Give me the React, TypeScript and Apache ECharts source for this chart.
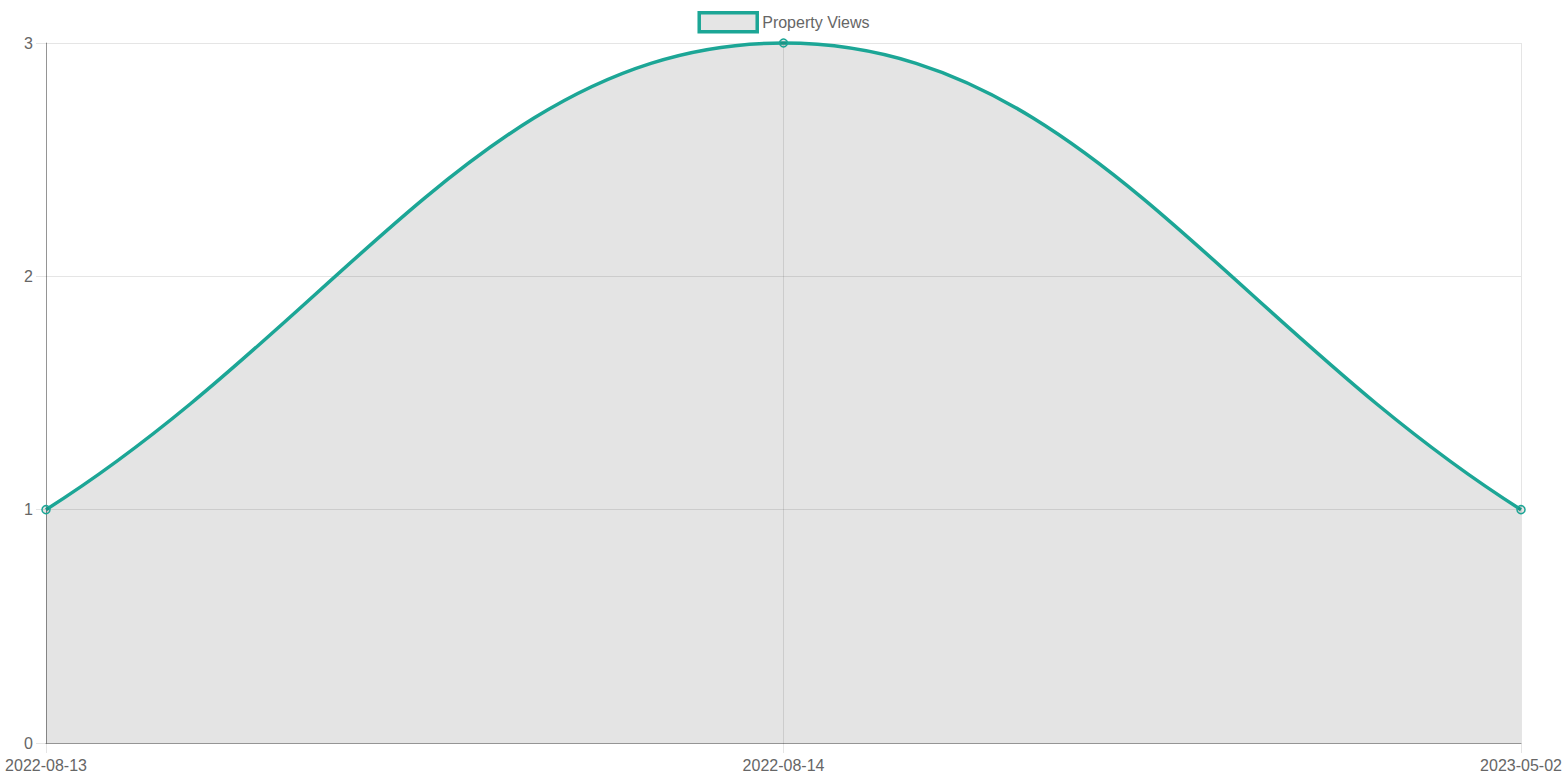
import React, { useEffect, useRef } from "react";
import * as echarts from "echarts";

const categories = ["2022-08-13", "2022-08-14", "2023-05-02"];
const views = [1, 3, 1];
const yTicks = { min: 0, max: 3, interval: 1 };

const TEAL = "#1ca696";
const FONT = "'Liberation Sans', Arial, Helvetica, sans-serif";
const TENSION = 0.4;

type P = [number, number];

// Chart.js-style spline control points
function controlPoints(pts: P[], t: number) {
  const res: { prev: P; next: P }[] = [];
  for (let i = 0; i < pts.length; i++) {
    const cur = pts[i];
    const a = pts[i - 1] || cur;
    const b = pts[i + 1] || cur;
    const d01 = Math.hypot(cur[0] - a[0], cur[1] - a[1]);
    const d12 = Math.hypot(b[0] - cur[0], b[1] - cur[1]);
    let s01 = d01 / (d01 + d12);
    let s12 = d12 / (d01 + d12);
    if (!isFinite(s01)) s01 = 0;
    if (!isFinite(s12)) s12 = 0;
    const fa = t * s01;
    const fb = t * s12;
    res.push({
      prev: [cur[0] - fa * (b[0] - a[0]), cur[1] - fa * (b[1] - a[1])],
      next: [cur[0] + fb * (b[0] - a[0]), cur[1] + fb * (b[1] - a[1])],
    });
  }
  return res;
}

function curvePath(pts: P[]) {
  const cps = controlPoints(pts, TENSION);
  let d = `M${pts[0][0]},${pts[0][1]}`;
  for (let i = 1; i < pts.length; i++) {
    const c1 = cps[i - 1].next;
    const c2 = cps[i].prev;
    d += ` C${c1[0]},${c1[1]} ${c2[0]},${c2[1]} ${pts[i][0]},${pts[i][1]}`;
  }
  return d;
}

export default function App() {
  const ref = useRef<HTMLDivElement>(null);
  useEffect(() => {
    if (!ref.current) return;
    const chart = echarts.init(ref.current, null, { renderer: "svg" });
    chart.setOption({
      animation: false,
      textStyle: { fontFamily: FONT },
      legend: {
        top: 6,
        left: "center",
        itemWidth: 58,
        itemHeight: 19,
        icon: "rect",
        textStyle: { color: "#666", fontSize: 16, fontFamily: FONT },
        itemStyle: { color: "rgba(0,0,0,0.1)", borderColor: TEAL, borderWidth: 3.5 },
        data: ["Property Views"],
      },
      grid: { left: 46, right: 46, top: 43, bottom: 40, containLabel: false },
      xAxis: {
        type: "category",
        data: categories,
        boundaryGap: false,
        axisLine: { show: true, lineStyle: { color: "rgba(0,0,0,0.35)", width: 1 } },
        axisTick: { show: true, length: 10, lineStyle: { color: "rgba(0,0,0,0.1)" } },
        axisLabel: { color: "#666", fontSize: 16, margin: 14, fontFamily: FONT, interval: 0 },
        splitLine: { show: true, interval: 0, lineStyle: { color: "rgba(0,0,0,0.1)", width: 1 } },
      },
      yAxis: {
        type: "value",
        min: yTicks.min,
        max: yTicks.max,
        interval: yTicks.interval,
        axisLine: { show: true, lineStyle: { color: "rgba(0,0,0,0.35)", width: 1 } },
        axisTick: { show: true, length: 10, lineStyle: { color: "rgba(0,0,0,0.1)" } },
        axisLabel: { color: "#666", fontSize: 16, margin: 13, fontFamily: FONT },
        splitLine: { show: true, lineStyle: { color: "rgba(0,0,0,0.1)", width: 1 } },
      },
      series: [
        {
          name: "_curve",
          type: "custom",
          data: views.map((v, i) => [i, v]),
          encode: { x: 0, y: 1 },
          silent: true,
          z: 2,
          renderItem: (params: any, api: any) => {
            if (params.dataIndex !== 0) return null;
            const pts: P[] = views.map((v, i) => api.coord([i, v]) as P);
            const baseY = api.coord([0, yTicks.min])[1];
            const line = curvePath(pts);
            const last = pts[pts.length - 1];
            const area = `${line} L${last[0]},${baseY} L${pts[0][0]},${baseY} Z`;
            return {
              type: "group",
              children: [
                {
                  type: "path",
                  shape: { pathData: area },
                  style: { fill: "rgba(0,0,0,0.105)", stroke: null },
                },
                {
                  type: "path",
                  shape: { pathData: line },
                  style: { fill: null, stroke: TEAL, lineWidth: 3.5, lineJoin: "round" },
                },
              ],
            };
          },
        },
        {
          name: "Property Views",
          type: "line",
          data: views,
          symbol: "circle",
          symbolSize: 8,
          showSymbol: true,
          lineStyle: { width: 0, opacity: 0 },
          itemStyle: { color: "rgba(0,0,0,0.1)", borderColor: TEAL, borderWidth: 1.5 },
          z: 3,
        },
      ],
    });
    return () => chart.dispose();
  }, []);
  return (
    <div
      ref={ref}
      style={{ position: "fixed", left: 0, top: 0, width: 1567, height: 783, background: "#fff" }}
    />
  );
}
